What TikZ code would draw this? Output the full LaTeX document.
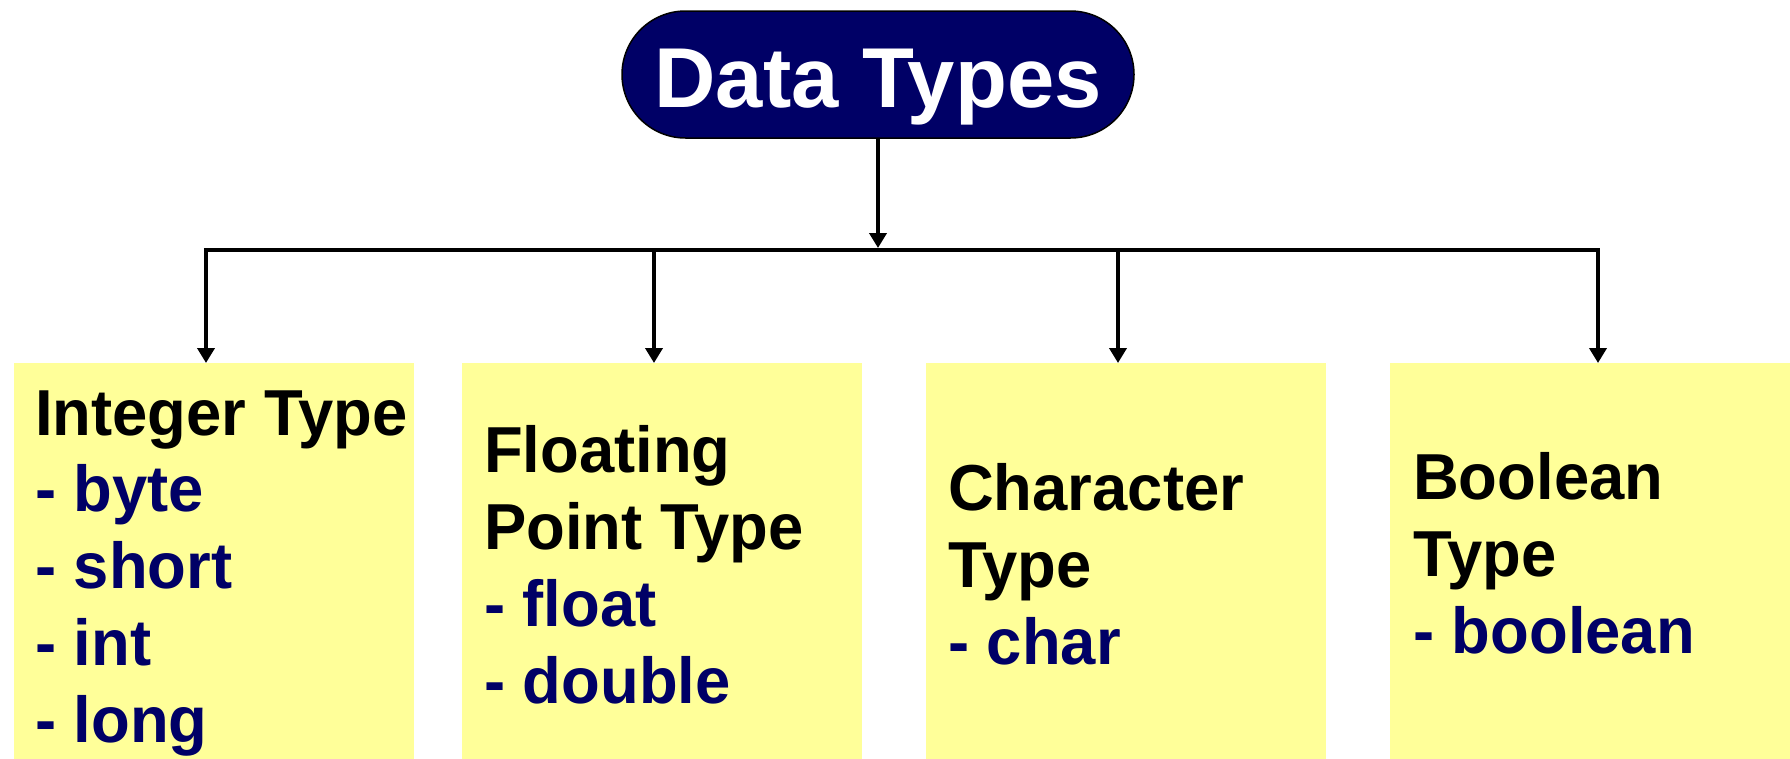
\documentclass[tikz,border=0pt]{standalone}
\usepackage{fontspec}
\setmainfont{Liberation Sans}
\newfontfamily\boxfont[FakeStretch=0.975]{Liberation Sans}
\usetikzlibrary{arrows.meta}
\definecolor{navy}{HTML}{000066}
\definecolor{paleyellow}{HTML}{FFFF99}

\begin{document}
\begin{tikzpicture}[x=1pt,y=-1pt,
  rootpill/.style={draw=black, line width=1.5pt, fill=navy, rounded corners=63.5pt,
    minimum width=512pt, minimum height=127pt, inner sep=0pt, text=white,
    text height=80pt, text depth=15pt,
    font=\bfseries\fontsize{85}{85}\selectfont},
  typebox/.style={fill=paleyellow, minimum width=400pt, minimum height=400pt,
    anchor=north west, inner sep=0pt},
  % base anchor of a multi-line node sits on its last line
  typetext/.style={anchor=base west, align=left, inner sep=0pt,
    font=\boxfont\bfseries\fontsize{65}{76.7}\selectfont},
  link/.style={line width=4.5pt, line join=miter},
  tip/.style={-{Triangle[width=17pt,length=15pt]}},
]
\clip (0,0) rectangle (1790,758);
\useasboundingbox (0,0) rectangle (1790,758);

% root of the hierarchy
\node[rootpill] (root) at (878,74.5) {Data Types};

% the four categories
\node[typebox] (b1) at (14,363) {};
\node[typebox] (b2) at (462,363) {};
\node[typebox] (b3) at (926,363) {};
\node[typebox, minimum width=402pt] (b4) at (1390,363) {};

\node[typetext] (t1) at (35,742) {Integer Type\\\textcolor{navy}{- byte}\\\textcolor{navy}{- short}\\\textcolor{navy}{- int}\\\textcolor{navy}{- long}};
\node[typetext] (t2) at (484,703) {Floating\\Point Type\\\textcolor{navy}{- float}\\\textcolor{navy}{- double}};
\node[typetext] (t3) at (948,664) {Character\\Type\\\textcolor{navy}{- char}};
\node[typetext] (t4) at (1413,653) {Boolean\\Type\\\textcolor{navy}{- boolean}};

% connectors
\coordinate (bus) at (878,250);
\coordinate (bus1) at (206,250);
\coordinate (bus2) at (654,250);
\coordinate (bus3) at (1118,250);
\coordinate (bus4) at (1598,250);

\draw[link, tip, shorten >=2pt] (root.south) -- (bus);
\draw[link, tip] (bus1) -- (bus1 |- b1.north);
\draw[link, tip] (bus2) -- (bus2 |- b2.north);
\draw[link, tip] (bus3) -- (bus3 |- b3.north);
\draw[link, tip] (bus4) -- (bus4 |- b4.north);
\draw[link] ([xshift=-2.25pt]bus1) -- ([xshift=2.25pt]bus4);
\end{tikzpicture}
\end{document}
